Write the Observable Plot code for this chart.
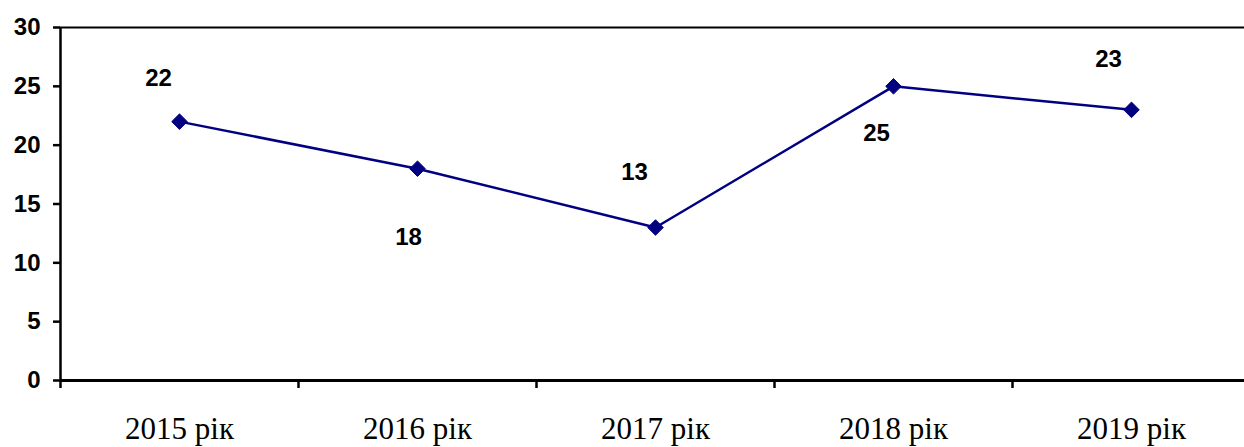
<!DOCTYPE html>
<html>
<head>
<meta charset="utf-8">
<script src="https://cdn.jsdelivr.net/npm/d3@7"></script>
<script src="https://cdn.jsdelivr.net/npm/@observablehq/plot@0.6"></script>
<style>
  body { margin: 0; background: #fff; }
  #chart svg { display: block; }
</style>
</head>
<body>
<div id="chart"></div>
<script>
const categories = ["2015 рік", "2016 рік", "2017 рік", "2018 рік", "2019 рік"];
const values = [22, 18, 13, 25, 23];
const yTicks = [0, 5, 10, 15, 20, 25, 30];
// label offsets (px) relative to each point, as placed in the reference
const labelDx = [-21, -9, -21, -17, -23];
const labelDy = [-43, 69, -55, 47, -51];

const data = categories.map((c, i) => ({i, category: c, value: values[i]}));
const idx = categories.map((_, i) => i);
const boundaries = categories.map((_, i) => i - 0.5);

const navy = "#000080";

const labelMarks = data.map((d, k) => Plot.text([d], {
  x: "i", y: "value", text: d => String(d.value),
  dx: labelDx[k], dy: labelDy[k],
  fontSize: 24, fontWeight: "bold", fontFamily: "Liberation Sans, Arial, sans-serif",
  fill: "black", textAnchor: "middle", lineAnchor: "middle"
}));

const chart = Plot.plot({
  width: 1244,
  height: 447,
  marginLeft: 60,
  marginTop: 27,
  marginBottom: 67,
  marginRight: 0,
  style: {background: "white", color: "black", overflow: "hidden"},
  x: {type: "linear", domain: [-0.5, categories.length - 0.5], range: [60, 1250]},
  y: {domain: [0, 30], range: [380, 27]},
  marks: [
    Plot.axisY({ticks: yTicks, tickSize: 7, tickPadding: 13, strokeWidth: 2.5,
      fontSize: 24, fontWeight: "bold", fontFamily: "Liberation Sans, Arial, sans-serif",
      label: null, fill: "black"}),
    Plot.axisX({ticks: boundaries, tickSize: 8, strokeWidth: 2.5, tickFormat: () => "", label: null}),
    Plot.axisX({ticks: idx, tickSize: 0, tickPadding: 36, tickFormat: i => categories[i],
      fontSize: 31, fontFamily: "Liberation Serif, Times New Roman, serif", label: null, fill: "black"}),
    Plot.ruleY([30], {stroke: "black", strokeWidth: 2}),
    Plot.ruleY([0], {stroke: "black", strokeWidth: 3}),
    Plot.ruleX([-0.5], {stroke: "black", strokeWidth: 2.5}),
    Plot.line(data, {x: "i", y: "value", stroke: navy, strokeWidth: 2.5}),
    Plot.dot(data, {x: "i", y: "value", symbol: "diamond2", r: 7, fill: navy, stroke: navy, strokeWidth: 1}),
    ...labelMarks
  ]
});
document.getElementById("chart").append(chart);
</script>
</body>
</html>
